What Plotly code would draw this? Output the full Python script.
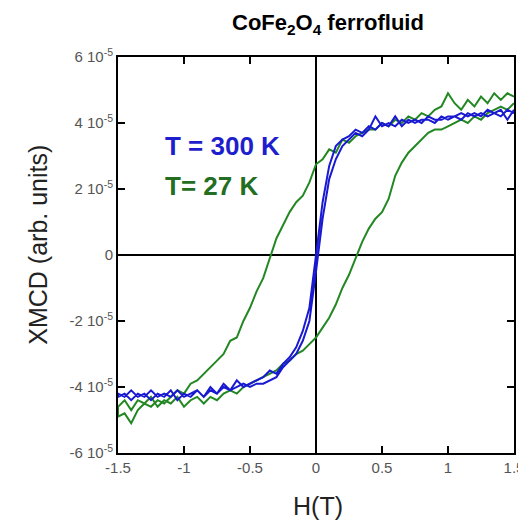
import plotly.graph_objects as go

# Field values (T), descending sweep 1.5 -> -1.5
H_down = [1.5, 1.45, 1.4, 1.35, 1.3, 1.25, 1.2, 1.15, 1.1, 1.05, 1.0, 0.95, 0.9, 0.85, 0.8,
          0.75, 0.7, 0.65, 0.6, 0.55, 0.5, 0.45, 0.4, 0.35, 0.3, 0.25, 0.2, 0.15, 0.1, 0.05,
          0.0, -0.05, -0.1, -0.15, -0.2, -0.25, -0.3, -0.35, -0.4, -0.45, -0.5, -0.55, -0.6,
          -0.65, -0.7, -0.75, -0.8, -0.85, -0.9, -0.95, -1.0, -1.05, -1.1, -1.15, -1.2, -1.25,
          -1.3, -1.35, -1.4, -1.45, -1.5]
H_up = H_down[::-1]

# XMCD in units of 1e-5
green_down = [4.8, 4.9, 4.7, 4.9, 4.6, 4.8, 4.5, 4.7, 4.4, 4.6, 4.9, 4.5, 4.4, 4.2, 4.3,
              4.1, 4.2, 4.0, 4.1, 3.9, 4.0, 3.8, 3.8, 3.7, 3.6, 3.4, 3.5, 3.1, 3.2, 2.9,
              2.75, 2.2, 1.8, 1.6, 1.3, 0.9, 0.5, -0.1, -0.7, -1.1, -1.6, -2.0, -2.5,
              -2.6, -3.0, -3.2, -3.4, -3.6, -3.8, -3.9, -4.2, -4.1, -4.3, -4.5, -4.4, -4.6,
              -4.5, -4.7, -5.1, -4.8, -4.9]
green_up = [-4.6, -4.4, -4.7, -4.4, -4.5, -4.3, -4.6, -4.4, -4.5, -4.3, -4.6, -4.4, -4.3,
            -4.5, -4.3, -4.4, -4.2, -4.1, -4.2, -4.0, -3.9, -3.8, -3.7, -3.6, -3.5, -3.3,
            -3.2, -3.0, -2.9, -2.7, -2.5, -2.2, -1.9, -1.5, -1.0, -0.6, -0.1, 0.4, 0.8,
            1.1, 1.3, 1.7, 2.4, 2.8, 3.1, 3.3, 3.5, 3.7, 3.8, 3.8, 3.9, 4.0, 4.1, 4.0, 4.2,
            4.1, 4.3, 4.4, 4.5, 4.4, 4.6]
blue_down = [4.3, 4.4, 4.2, 4.3, 4.2, 4.3, 4.2, 4.3, 4.1, 4.2, 4.1, 4.2, 4.0, 4.1, 4.1,
             4.0, 4.1, 3.9, 4.2, 3.9, 4.0, 3.8, 3.9, 3.7, 3.8, 3.6, 3.5, 3.3, 2.7, 1.6,
             0.0, -1.6, -2.3, -2.8, -3.1, -3.3, -3.6, -3.5, -3.7, -3.8, -3.9, -4.0, -3.8,
             -4.1, -4.0, -4.2, -4.0, -4.3, -4.1, -4.3, -4.2, -4.4, -4.1, -4.3, -4.2, -4.4,
             -4.2, -4.3, -4.1, -4.3, -4.2]
blue_up = [-4.3, -4.2, -4.4, -4.2, -4.3, -4.1, -4.3, -4.2, -4.3, -4.1, -4.3, -4.2, -4.1,
           -4.3, -4.1, -4.2, -3.9, -4.1, -4.0, -3.9, -4.0, -3.9, -3.9, -3.8, -3.7, -3.4,
           -3.2, -3.0, -2.6, -2.0, -0.5, 1.1, 2.3, 2.9, 3.3, 3.5, 3.7, 3.6, 3.8, 4.2, 3.9,
           4.0, 3.9, 4.1, 4.0, 4.1, 4.0, 4.2, 4.1, 4.1, 4.2, 4.2, 4.3, 4.2, 4.3, 4.2, 4.4,
           4.3, 4.4, 4.1, 4.4]

SCALE = 1e-5
y_tickvals = [-6, -4, -2, 0, 2, 4, 6]
y_ticktext = ["-6 10<sup>-5</sup>", "-4 10<sup>-5</sup>", "-2 10<sup>-5</sup>", "0",
              "2 10<sup>-5</sup>", "4 10<sup>-5</sup>", "6 10<sup>-5</sup>"]
x_tickvals = [-1.5, -1, -0.5, 0, 0.5, 1, 1.5]
x_ticktext = ["-1.5", "-1", "-0.5", "0", "0.5", "1", "1.5"]

BLUE = "rgb(25,25,210)"
GREEN = "rgb(35,135,35)"

fig = go.Figure()
fig.add_trace(go.Scatter(x=H_down + H_up, y=[v * SCALE for v in green_down + green_up],
                         mode="lines", line=dict(color=GREEN, width=2), showlegend=False))
fig.add_trace(go.Scatter(x=H_down + H_up, y=[v * SCALE for v in blue_down + blue_up],
                         mode="lines", line=dict(color=BLUE, width=2), showlegend=False))

axis_common = dict(showline=True, linecolor="black", linewidth=2, mirror="ticks",
                   ticks="inside", ticklen=7, tickwidth=1.5, tickcolor="black",
                   showgrid=False, zeroline=True, zerolinecolor="black", zerolinewidth=1.5,
                   automargin=False,
                   tickfont=dict(family="Liberation Sans, Arial", size=15, color="#555"))

# the page body adds an 8px offset, so the figure is 8px smaller than the window
fig.update_layout(
    width=518, height=514,
    margin=dict(l=110, r=12, t=49, b=69, autoexpand=False),
    paper_bgcolor="white", plot_bgcolor="white",
    xaxis=dict(range=[-1.5, 1.5], tickvals=x_tickvals, ticktext=x_ticktext, **axis_common),
    yaxis=dict(range=[-6e-5, 6e-5], tickvals=[v * SCALE for v in y_tickvals],
               ticktext=y_ticktext, **axis_common),
    font=dict(family="Liberation Sans, Arial"),
    annotations=[
        dict(text="<b>CoFe<sub>2</sub>O<sub>4</sub> ferrofluid</b>", xref="paper", yref="paper",
             x=0.53, y=1.083, showarrow=False, font=dict(size=22, color="black"),
             xanchor="center", yanchor="middle"),
        dict(text="XMCD (arb. units)", xref="paper", yref="paper", x=-0.203, y=0.525,
             textangle=-90, showarrow=False, font=dict(size=25, color="#222"),
             xanchor="center", yanchor="middle"),
        dict(text="H(T)", xref="paper", yref="paper", x=0.505, y=-0.134, showarrow=False,
             font=dict(size=25, color="#222"), xanchor="center", yanchor="middle"),
        dict(text="<b>T = 300 K</b>", x=-1.16, y=3.3e-5, xanchor="left", yanchor="middle",
             showarrow=False, font=dict(size=26, color="rgb(30,30,205)")),
        dict(text="<b>T= 27 K</b>", x=-1.16, y=2.08e-5, xanchor="left", yanchor="middle",
             showarrow=False, font=dict(size=26, color="rgb(35,110,35)")),
    ],
)

fig.write_html("out.html")
